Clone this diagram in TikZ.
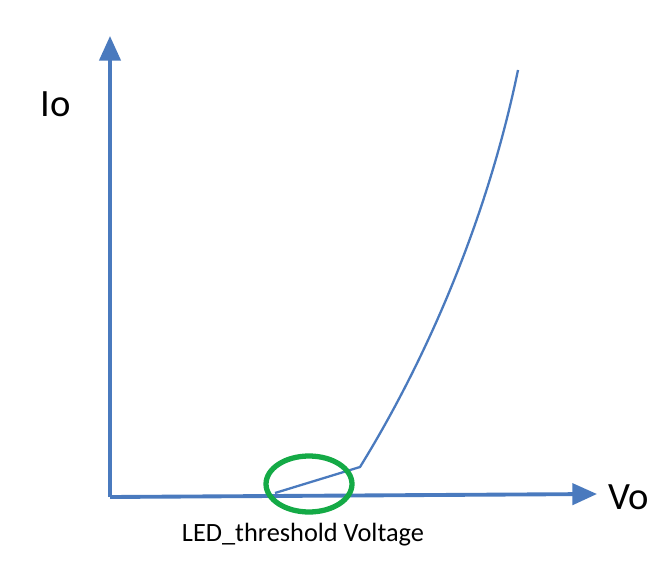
\documentclass[tikz,border=0pt]{standalone}
\usepackage{fontspec}
\setmainfont{Carlito}
\usetikzlibrary{arrows.meta,shapes.geometric}
\definecolor{ax}{RGB}{74,122,190}
\definecolor{gr}{RGB}{20,170,70}
\begin{document}
\begin{tikzpicture}[x=0.02cm,y=-0.02cm,
  axis/.style={ax,line width=2.2pt,-{Triangle[length=14pt,width=12pt]}},
  lbl/.style={inner sep=0pt}]
\useasboundingbox[fill=white] (0,0) rectangle (665,563);
\coordinate (o) at (110,497);
\coordinate (yt) at (110,36);
\coordinate (xt) at (597,494);
\draw[axis] (o) -- (yt);
\draw[axis] (o) -- (xt);
\coordinate (a) at (275,493);
\coordinate (b) at (360,467);
\coordinate (c) at (518,70);
\draw[ax,line width=1.3pt] (a) -- (b) .. controls (420,370) and (485,230) .. (c);
\node[draw=gr,line width=3pt,ellipse,inner sep=0pt,
  minimum width=1.72cm,minimum height=1.12cm] (th) at (309,484) {};
\node[lbl,font=\fontsize{22}{24}\selectfont] (io) at (56,104) {Io};
\node[lbl,font=\fontsize{22}{24}\selectfont] (vo) at (629,497) {Vo};
\node[lbl,font=\fontsize{15}{17}\selectfont] (lt) at (303,535) {LED\_threshold Voltage};
\end{tikzpicture}
\end{document}
